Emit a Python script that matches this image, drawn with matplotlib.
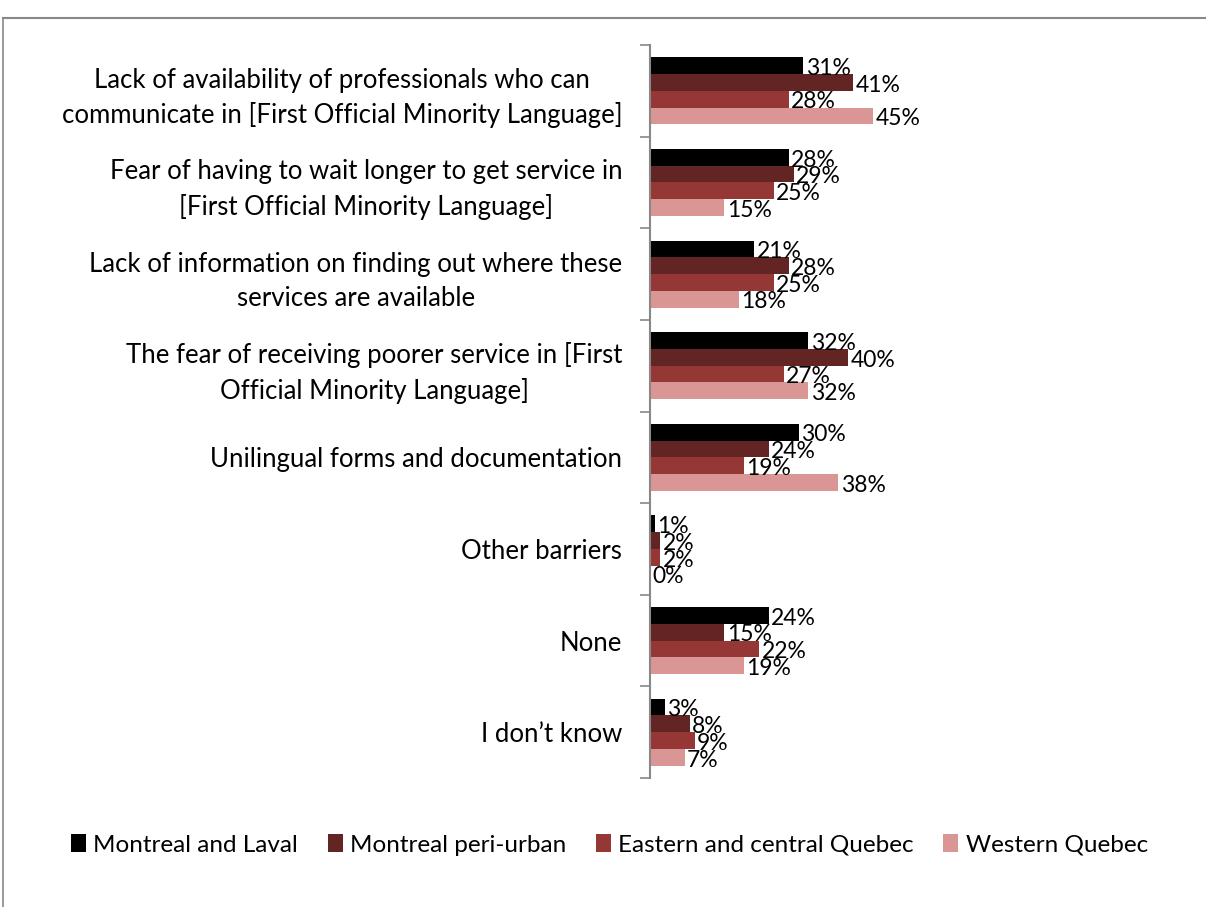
import matplotlib
matplotlib.use("Agg")
import matplotlib.pyplot as plt
import numpy as np

categories = [
    "Lack of availability of professionals who can\ncommunicate in [First Official Minority Language]",
    "Fear of having to wait longer to get service in\n[First Official Minority Language]",
    "Lack of information on finding out where these\nservices are available",
    "The fear of receiving poorer service in [First\nOfficial Minority Language]",
    "Unilingual forms and documentation",
    "Other barriers",
    "None",
    "I don\u2019t know",
]
series_names = ["Montreal and Laval", "Montreal peri-urban",
                "Eastern and central Quebec", "Western Quebec"]
montreal_laval = [31, 28, 21, 32, 30, 1, 24, 3]
montreal_peri = [41, 29, 28, 40, 24, 2, 15, 8]
eastern_central = [28, 25, 25, 27, 19, 2, 22, 9]
western = [45, 15, 18, 32, 38, 0, 19, 7]
colors = ["#000000", "#632523", "#953735", "#D99694"]

plt.rcParams['font.family'] = ['Lato', 'DejaVu Sans']
fig = plt.figure(figsize=(12.06, 9.07), dpi=100)
# outer chart frame (partially visible)
fig.add_artist(plt.Line2D([0.0025, 0.0025], [0, 0.98], color="#888888", lw=1.2))
fig.add_artist(plt.Line2D([0.0025, 1], [0.98, 0.98], color="#888888", lw=1.5))

ax = fig.add_axes([650/1206, 1-778/907, 250/1206, (778-45)/907])
data = [montreal_laval, montreal_peri, eastern_central, western]
n = len(categories)
bh = 0.183
y = np.arange(n)
for i, (vals, c, name) in enumerate(zip(data, colors, series_names)):
    pos = y + (i - 1.5) * bh
    ax.barh(pos, vals, height=bh, color=c, label=name, edgecolor="none")
    for p, v in zip(pos, vals):
        ax.text(v + 0.5, p + 0.03, f"{v}%", va="center", ha="left", fontsize=16.5)

ax.set_ylim(n - 0.5, -0.5)
ax.set_xlim(0, 50.5)
ax.set_yticks(y)
ax.set_yticklabels(categories, fontsize=18.5, multialignment="center",
                   linespacing=1.45)
ax.set_yticks(np.arange(n + 1) - 0.5, minor=True)
ax.tick_params(axis="y", which="major", length=0, pad=20)
ax.tick_params(axis="y", which="minor", length=7, color="#888888", width=1.2)
ax.set_xticks([])
for s in ["top", "right", "bottom"]:
    ax.spines[s].set_visible(False)
ax.spines["left"].set_color("#888888")
ax.spines["left"].set_linewidth(1.5)

fig.legend(loc="center left", bbox_to_anchor=(0.0506, 1-845/907), ncol=4,
           frameon=False, fontsize=17.5, handlelength=0.62, handleheight=0.75,
           handletextpad=0.29, columnspacing=1.23, borderaxespad=0)

fig.savefig("out.png", dpi=100)
